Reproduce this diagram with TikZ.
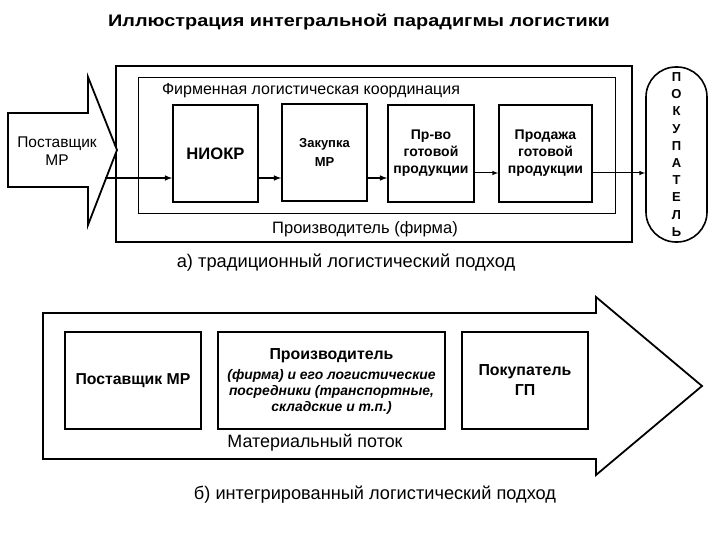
\documentclass[tikz,border=0pt]{standalone}
\usepackage{fontspec}
\setmainfont{Liberation Sans}
\usetikzlibrary{arrows, positioning}

\tikzset{
  frame/.style={draw, inner sep=0pt},
  box/.style={draw, line width=1.6pt, inner sep=0pt, align=center,
    minimum height=97pt, font=\bfseries\fontsize{14}{17}\selectfont},
  flow/.style={-latex, line width=1.5pt},
  thinflow/.style={-latex, line width=1pt},
  label/.style={inner sep=0pt, font=\fontsize{16.5}{19}\selectfont}
}

\begin{document}
\begin{tikzpicture}[x=1pt, y=-1pt]
\useasboundingbox (0,0) rectangle (720,540);
\node[font=\bfseries\fontsize{16.7}{20}\selectfont] (title) at (359,22) {\scalebox{1.19}[1]{Иллюстрация интегральной парадигмы логистики}};

% a) traditional approach
\node[frame, line width=1.8pt, minimum width=516pt, minimum height=176pt] (firm) at (374,154) {};
\node[frame, line width=0.8pt, minimum width=477pt, minimum height=136pt] (coord) at (376.5,145) {};
\draw[line width=1.8pt, fill=white] (8,113) -- (88,113) -- (88,77) -- (117,150) -- (88,225) -- (88,187) -- (8,187) -- cycle;
\node[label, align=center, font=\fontsize{15.5}{18}\selectfont] (supa) at (57,151) {Поставщик\\МР};
\node[label, font=\fontsize{16}{19}\selectfont] (coordlbl) at (311,91) {Фирменная логистическая координация};
\node[label] (firmlbl) at (365,229) {Производитель (фирма)};
\node[label, font=\fontsize{18.3}{21}\selectfont] (capa) at (346,263) {а) традиционный логистический подход};

\node[box, minimum width=85pt, font=\bfseries\fontsize{16.6}{19}\selectfont] (niokr) at (215.5,153.5) {НИОКР};
\node[box, minimum width=85pt, font=\bfseries\fontsize{13}{19}\selectfont] (zak) at (324.5,152.5) {Закупка\\МР};
\node[box, minimum width=86pt] (prv) at (431,153.5) {Пр-во\\готовой\\продукции};
\node[box, minimum width=93pt] (prod) at (545.5,153.5) {Продажа\\готовой\\продукции};
\node[box, minimum width=61pt, minimum height=175pt, rounded corners=30pt,
  font=\bfseries\fontsize{13}{17.2}\selectfont] (buy) at (676.5,154.5) {П\\О\\К\\У\\П\\А\\Т\\Е\\Л\\Ь};
\coordinate (src) at (105,178);
\coordinate (prve) at ([yshift=-19.5pt]prv.east);
\coordinate (prode) at ([yshift=-19.5pt]prod.east);

\draw[flow] (src) -- ([yshift=-24.5pt]niokr.west);
\draw[flow] ([yshift=-24.5pt]niokr.east) -- ([yshift=-25.5pt]zak.west);
\draw[flow] ([yshift=-25.5pt]zak.east) -- ([yshift=-24.5pt]prv.west);
\draw[thinflow] (prve) -- (prve -| prod.west);
\draw[thinflow] (prode) -- (prode -| buy.west);

% b) integrated approach
\draw[line width=1.8pt] (43,313) -- (596,313) -- (596,297) -- (702,386) -- (596,475) -- (596,459) -- (43,459) -- cycle;
\node[box, minimum width=136pt, font=\bfseries\fontsize{15.8}{19}\selectfont] (supb) at (133,380.5) {Поставщик МР};
\node[box, minimum width=227pt] (maker) at (331.5,380.5) {};
\node[align=center, inner sep=0pt, font=\bfseries\fontsize{15.9}{19}\selectfont] (makerlbl) at (331.5,356) {Производитель};
\node[align=center, inner sep=0pt, font=\bfseries\itshape\fontsize{13.9}{16}\selectfont] (makertxt) at (331.5,392) {(фирма) и его логистические\\посредники (транспортные,\\складские и т.п.)};
\node[box, minimum width=126pt, font=\bfseries\fontsize{15.9}{20}\selectfont] (buyb) at (525,380.5) {Покупатель\\ГП};
\node[label, font=\fontsize{17.9}{21}\selectfont] (flowlbl) at (315,443) {Материальный поток};
\node[label, font=\fontsize{18.2}{21}\selectfont] (capb) at (375,495) {б) интегрированный логистический подход};
\end{tikzpicture}
\end{document}
